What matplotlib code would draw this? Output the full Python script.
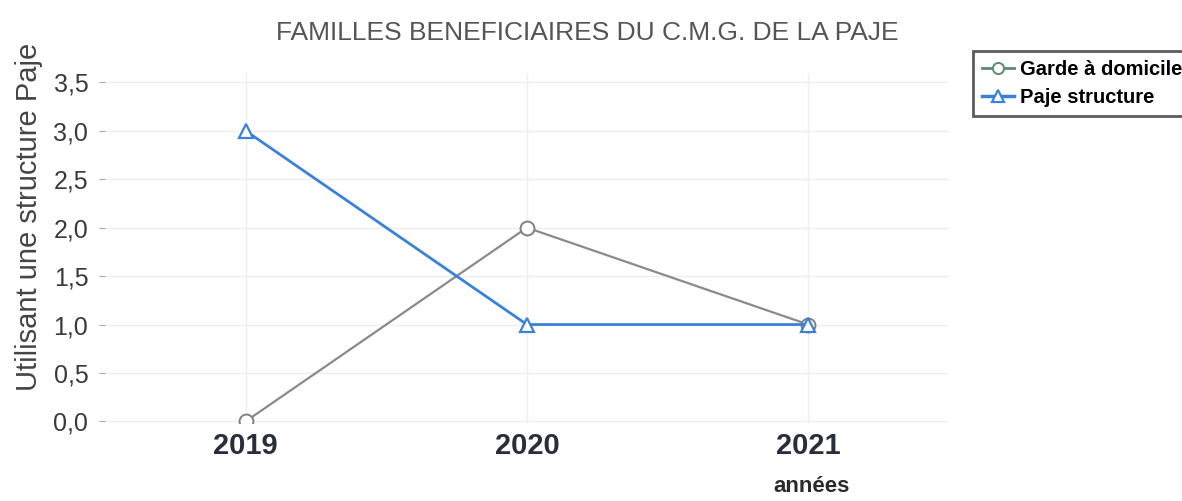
import matplotlib
matplotlib.use("Agg")
import matplotlib.pyplot as plt

years = [2019, 2020, 2021]
garde = [0, 2, 1]
paje = [3, 1, 1]
yticks = [0.0, 0.5, 1.0, 1.5, 2.0, 2.5, 3.0, 3.5]
ytick_labels = ["0,0", "0,5", "1,0", "1,5", "2,0", "2,5", "3,0", "3,5"]

plt.rcParams['font.family'] = ['Liberation Sans', 'DejaVu Sans']

fig = plt.figure(figsize=(11.82, 5.01), dpi=100)
ax = fig.add_axes([0.0888, 0.155, 0.714, 0.70])

ax.plot(years, garde, color='#8a8a8a', lw=1.6, marker='o', ms=10,
        mfc='white', mec='#808080', mew=1.4, label='Garde à domicile')
ax.plot(years, paje, color='#3a82d8', lw=2.0, marker='^', ms=10,
        mfc='white', mec='#3a82d8', mew=1.6, label='Paje structure')

ax.set_xlim(2018.5, 2021.5)
ax.set_ylim(-0.02, 3.6)
ax.set_xticks(years)
ax.set_xticklabels([str(y) for y in years], fontsize=21, fontweight='bold', color='#2a2d3a')
ax.set_yticks(yticks)
ax.set_yticklabels(ytick_labels, fontsize=18, color='#3a3a3a')
ax.tick_params(axis='y', length=4, color='#aaaaaa', pad=8)
ax.tick_params(axis='x', length=0, pad=6)
for s in ax.spines.values():
    s.set_visible(False)
ax.grid(True, color='#efefef', lw=1.0)
ax.set_axisbelow(True)

ax.set_ylabel('Utilisant une structure Paje', fontsize=21, color='#444444')
ax.yaxis.set_label_coords(-0.073, 0.59)
fig.text(812/1182, 1 - 487/501, 'années', fontsize=16, fontweight='bold',
         color='#2a2a2a', ha='center', va='center')
fig.text(587/1182, 1 - 33/501, 'FAMILLES BENEFICIAIRES DU C.M.G. DE LA PAJE',
         fontsize=19, color='#555555', ha='center', va='center')

leg = ax.legend(loc='upper left', bbox_to_anchor=(963/1182, 1 - 41/501),
                bbox_transform=fig.transFigure, frameon=True, fancybox=False,
                prop={'weight': 'bold', 'size': 14.5}, handlelength=1.6,
                handletextpad=0.3, borderpad=0.45, labelspacing=0.45, markerscale=0.8)
leg.get_frame().set_edgecolor('#333333')
leg.get_frame().set_linewidth(2)
leg.get_lines()[0].set_color('#5f8a6c')
leg.get_lines()[0].set_markeredgecolor('#5f8a6c')
leg.get_lines()[0].set_linewidth(2)
leg.get_lines()[1].set_linewidth(2.5)

fig.savefig('out.png', dpi=100)
